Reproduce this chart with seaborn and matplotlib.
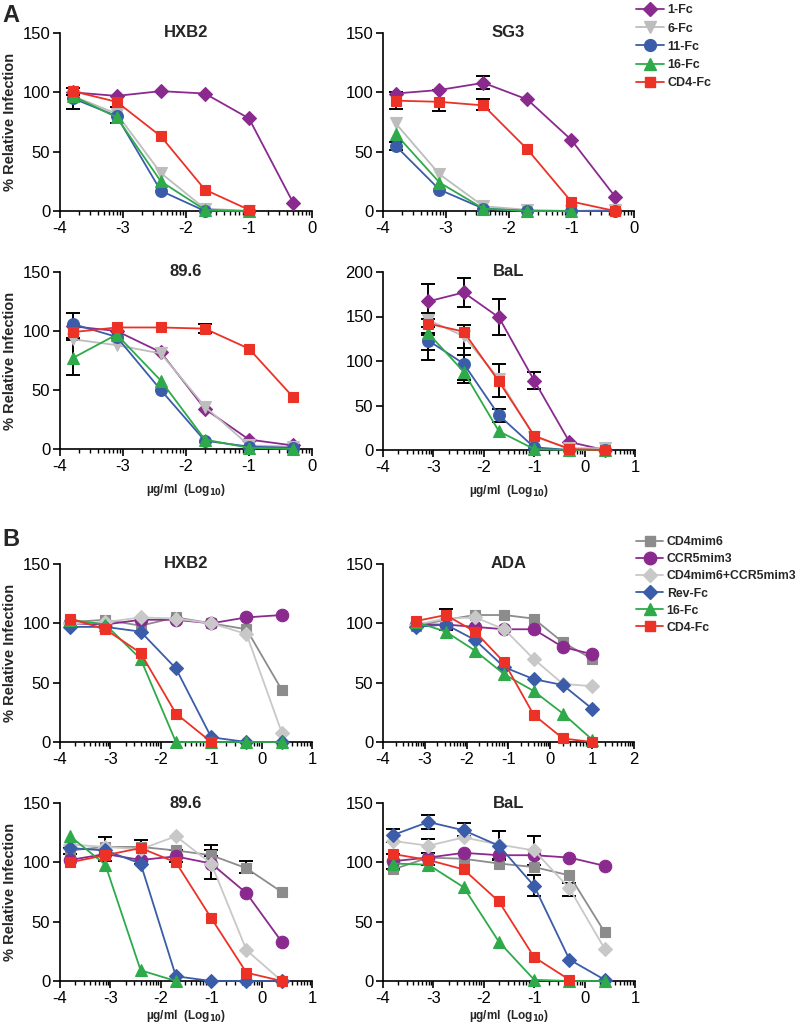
import numpy as np
import pandas as pd
import matplotlib
matplotlib.use("Agg")
import matplotlib.pyplot as plt
from matplotlib.lines import Line2D
from matplotlib.ticker import FixedLocator
import seaborn as sns

# ---------------- data ----------------
conc_a = [-3.8, -3.1, -2.4, -1.7, -1.0, -0.3]
conc_a_bal = [-3.1, -2.4, -1.7, -1.0, -0.3, 0.4]
conc_b = [-3.8, -3.1, -2.4, -1.7, -1.0, -0.3, 0.4]
conc_b_ada = [-3.2, -2.5, -1.8, -1.1, -0.4, 0.3, 1.0]

series_a = ["1-Fc", "6-Fc", "11-Fc", "16-Fc", "CD4-Fc"]
series_b = ["CD4mim6", "CCR5mim3", "CD4mim6+CCR5mim3", "Rev-Fc", "16-Fc", "CD4-Fc"]

nan = np.nan
a_hxb2 = {
    "1-Fc":   [100, 97, 101, 99, 78, 7],
    "6-Fc":   [97, 82, 32, 2, 0, nan],
    "11-Fc":  [95, 80, 17, 0, 0, nan],
    "16-Fc":  [97, 79, 25, 1, 0, nan],
    "CD4-Fc": [101, 92, 63, 18, 1, nan],
}
a_sg3 = {
    "1-Fc":   [99, 102, 108, 94, 60, 12],
    "6-Fc":   [74, 31, 4, 1, 0, 1],
    "11-Fc":  [55, 18, 2, 0, 0, 0],
    "16-Fc":  [65, 24, 2, 0, 0, nan],
    "CD4-Fc": [93, 92, 89, 52, 8, 0],
}
a_896 = {
    "1-Fc":   [104, 100, 82, 34, 8, 3],
    "6-Fc":   [93, 88, 81, 36, 3, 2],
    "11-Fc":  [106, 95, 50, 7, 2, 1],
    "16-Fc":  [77, 97, 58, 8, 1, 0],
    "CD4-Fc": [99, 103, 103, 102, 85, 44],
}
a_bal = {
    "1-Fc":   [167, 177, 149, 78, 9, 0],
    "6-Fc":   [146, 128, 80, 15, 2, 2],
    "11-Fc":  [123, 97, 39, 3, 0, 0],
    "16-Fc":  [131, 88, 21, 1, 0, 0],
    "CD4-Fc": [142, 133, 77, 16, 1, 0],
}
b_hxb2 = {
    "CD4mim6":          [101, 103, 98, 105, 100, 95, 44],
    "CCR5mim3":         [100, 99, 103, 103, 100, 105, 107],
    "CD4mim6+CCR5mim3": [100, 101, 105, 104, 100, 91, 8],
    "Rev-Fc":           [97, 97, 93, 62, 4, 0, 0],
    "16-Fc":            [103, 99, 70, 0, 0, 0, 0],
    "CD4-Fc":           [104, 95, 75, 24, 0, nan, nan],
}
b_ada = {
    "CD4mim6":          [98, 103, 107, 107, 104, 84, 70],
    "CCR5mim3":         [99, 99, 97, 95, 95, 80, 74],
    "CD4mim6+CCR5mim3": [99, 104, 105, 95, 70, 49, 47],
    "Rev-Fc":           [97, 99, 86, 63, 53, 48, 28],
    "16-Fc":            [101, 93, 77, 57, 43, 24, 2],
    "CD4-Fc":           [102, 107, 93, 67, 23, 3, 0],
}
b_896 = {
    "CD4mim6":          [110, 113, 113, 110, 106, 95, 75],
    "CCR5mim3":         [102, 107, 102, 105, 99, 74, 33],
    "CD4mim6+CCR5mim3": [115, 113, 111, 122, 99, 26, 0],
    "Rev-Fc":           [112, 110, 99, 4, 0, 0, 0],
    "16-Fc":            [122, 98, 9, 0, nan, nan, nan],
    "CD4-Fc":           [100, 106, 112, 100, 53, 7, 0],
}
b_bal = {
    "CD4mim6":          [94, 104, 103, 99, 96, 89, 41],
    "CCR5mim3":         [101, 104, 108, 106, 106, 104, 97],
    "CD4mim6+CCR5mim3": [118, 114, 121, 115, 110, 78, 27],
    "Rev-Fc":           [123, 134, 127, 114, 80, 18, 1],
    "16-Fc":            [99, 98, 79, 33, 1, 0, 0],
    "CD4-Fc":           [107, 102, 94, 67, 20, 1, nan],
}

# error bars: (x, low, high)
err_a_hxb2 = [(-3.8, 86, 104), (-3.1, 74, 88), (-3.8, 98, 104)]
err_a_sg3 = [(-3.8, 86, 100), (-3.1, 84, 102), (-2.4, 103, 114), (-2.4, 85, 94), (-3.8, 51, 58)]
err_a_896 = [(-3.8, 94, 115), (-3.8, 63, 92), (-1.7, 98, 106)]
err_a_bal = [(-3.1, 154, 186), (-3.1, 138, 147), (-3.1, 101, 129), (-3.1, 112, 131),
             (-2.4, 161, 193), (-2.4, 115, 140), (-2.4, 79, 115), (-2.4, 75, 107),
             (-1.7, 129, 170), (-1.7, 60, 97), (-1.7, 32, 46), (-1.0, 68, 88)]
err_b_hxb2 = []
err_b_ada = [(-2.5, 94, 112)]
err_b_896 = [(-3.8, 107, 112), (-3.1, 101, 121), (-2.4, 99, 119), (-1.7, 100, 110),
             (-1.0, 86, 115), (-1.0, 105, 110), (-0.3, 91, 101)]
err_b_bal = [(-3.8, 117, 128), (-3.1, 128, 140), (-2.4, 122, 133), (-1.7, 103, 126),
             (-1.0, 72, 89), (-1.0, 98, 122), (-3.1, 108, 120), (-0.3, 72, 83),
             (-3.8, 94, 107), (-3.1, 98, 108), (-1.7, 102, 126)]

# ---------------- styles ----------------
style_a = {
    "1-Fc":   ("#8b2a8e", "D", 7.5),
    "6-Fc":   ("#bdbdbd", "v", 8.5),
    "11-Fc":  ("#3a5ca9", "o", 8.5),
    "16-Fc":  ("#2eaa4a", "^", 8.5),
    "CD4-Fc": ("#ec3226", "s", 7.5),
}
style_b = {
    "CD4mim6":          ("#8c8c8c", "s", 7.5),
    "CCR5mim3":         ("#8b2a8e", "o", 9),
    "CD4mim6+CCR5mim3": ("#c8c8c8", "D", 7.5),
    "Rev-Fc":           ("#3a5ca9", "D", 7.5),
    "16-Fc":            ("#2eaa4a", "^", 8.5),
    "CD4-Fc":           ("#ec3226", "s", 7.5),
}

sns.set_theme(style="ticks")
plt.rcParams["font.family"] = ["Liberation Sans", "DejaVu Sans"]
plt.rcParams["mathtext.default"] = "bf"
plt.rcParams["axes.linewidth"] = 1.2
plt.rcParams["axes.unicode_minus"] = False

fig = plt.figure(figsize=(8, 10.28), dpi=100)
H = 1028.0
W = 800.0


def make_ax(left, right, top, bottom):
    return fig.add_axes([left / W, 1 - bottom / H, (right - left) / W, (bottom - top) / H])


def draw(ax, conc, data, names, styles, errs, title, xmin, xmax, ymax, ystep, ylabel, xlabel,
         xpad=6):
    for x, lo, hi in errs:
        ax.errorbar([x], [(lo + hi) / 2], yerr=[[(hi - lo) / 2], [(hi - lo) / 2]],
                    fmt="none", ecolor="black", elinewidth=1.4, capsize=5, capthick=1.4,
                    zorder=2, clip_on=False)
    for name in names:
        color, marker, ms = styles[name]
        df = pd.DataFrame({"x": conc, "y": data[name]}).dropna()
        sns.lineplot(data=df, x="x", y="y", ax=ax, color=color, marker=marker,
                     markersize=ms, markeredgecolor=color, markeredgewidth=0.8,
                     linewidth=1.3, estimator=None, sort=False, clip_on=False,
                     zorder=3)
    ax.set_xlim(xmin, xmax)
    ax.set_ylim(0, ymax)
    ax.set_xticks(range(xmin, xmax + 1))
    minors = [d + np.log10(k) for d in range(xmin, xmax) for k in range(2, 10)]
    ax.xaxis.set_minor_locator(FixedLocator(minors))
    ax.set_yticks(np.arange(0, ymax + 1, ystep))
    ax.tick_params(axis="both", which="major", direction="out", length=5, width=1.2,
                   labelsize=12, pad=2, color="black", labelcolor="black")
    ax.tick_params(axis="x", which="minor", direction="out", length=3, width=1.0, color="black")
    sns.despine(ax=ax)
    for s in ("left", "bottom"):
        ax.spines[s].set_color("black")
    ax.text(0.5, 1.0, title, transform=ax.transAxes, ha="center", va="center",
            fontsize=12, fontweight="bold")
    ax.set_xlabel(xlabel, fontsize=8.5, fontweight="bold", labelpad=xpad)
    ax.set_ylabel(ylabel, fontsize=10.5, fontweight="bold", labelpad=4)
    ax.set_facecolor("white")


YL = "% Relative Infection"
XL = "µg/ml  (Log$_{10}$)"

ax1 = make_ax(60, 312, 33, 211)
draw(ax1, conc_a, a_hxb2, series_a, style_a, err_a_hxb2, "HXB2", -4, 0, 150, 50, YL, "")
ax2 = make_ax(383, 634, 33, 211)
draw(ax2, conc_a, a_sg3, series_a, style_a, err_a_sg3, "SG3", -4, 0, 150, 50, "", "")
ax3 = make_ax(60, 312, 272, 449)
draw(ax3, conc_a, a_896, series_a, style_a, err_a_896, "89.6", -4, 0, 150, 50, YL, XL)
ax4 = make_ax(383, 635, 272, 450)
draw(ax4, conc_a_bal, a_bal, series_a, style_a, err_a_bal, "BaL", -4, 1, 200, 50, "", XL)

ax5 = make_ax(60, 312, 564, 742)
draw(ax5, conc_b, b_hxb2, series_b, style_b, err_b_hxb2, "HXB2", -4, 1, 150, 50, YL, "")
ax6 = make_ax(383, 634, 564, 742)
draw(ax6, conc_b_ada, b_ada, series_b, style_b, err_b_ada, "ADA", -4, 2, 150, 50, "", "")
ax7 = make_ax(60, 312, 803, 981)
draw(ax7, conc_b, b_896, series_b, style_b, err_b_896, "89.6", -4, 1, 150, 50, YL, XL, xpad=2)
ax8 = make_ax(383, 635, 803, 981)
draw(ax8, conc_b, b_bal, series_b, style_b, err_b_bal, "BaL", -4, 1, 150, 50, "", XL, xpad=2)


def legend_handles(names, styles):
    hs = []
    for n in names:
        c, m, ms = styles[n]
        hs.append(Line2D([0], [0], color=c, marker=m, markersize=ms, markeredgecolor=c,
                         linewidth=1.3, label=n))
    return hs


leg_a = fig.legend(handles=legend_handles(series_a, style_a), loc="upper left",
                   bbox_to_anchor=(630 / W, 1 + 2 / H), frameon=False, borderpad=0,
                   handlelength=2.2, handletextpad=0.3, labelspacing=0.5,
                   prop={"weight": "bold", "size": 9})
leg_b = fig.legend(handles=legend_handles(series_b, style_b), loc="upper left",
                   bbox_to_anchor=(630 / W, 1 - 530 / H), frameon=False, borderpad=0,
                   handlelength=2.2, handletextpad=0.3, labelspacing=0.42,
                   prop={"weight": "bold", "size": 8.8})

fig.text(2 / W, 1 - 16 / H, "A", fontsize=17, fontweight="bold", ha="left", va="center")
fig.text(2 / W, 1 - 540 / H, "B", fontsize=17, fontweight="bold", ha="left", va="center")

fig.savefig("out.png", dpi=100, facecolor="white")
